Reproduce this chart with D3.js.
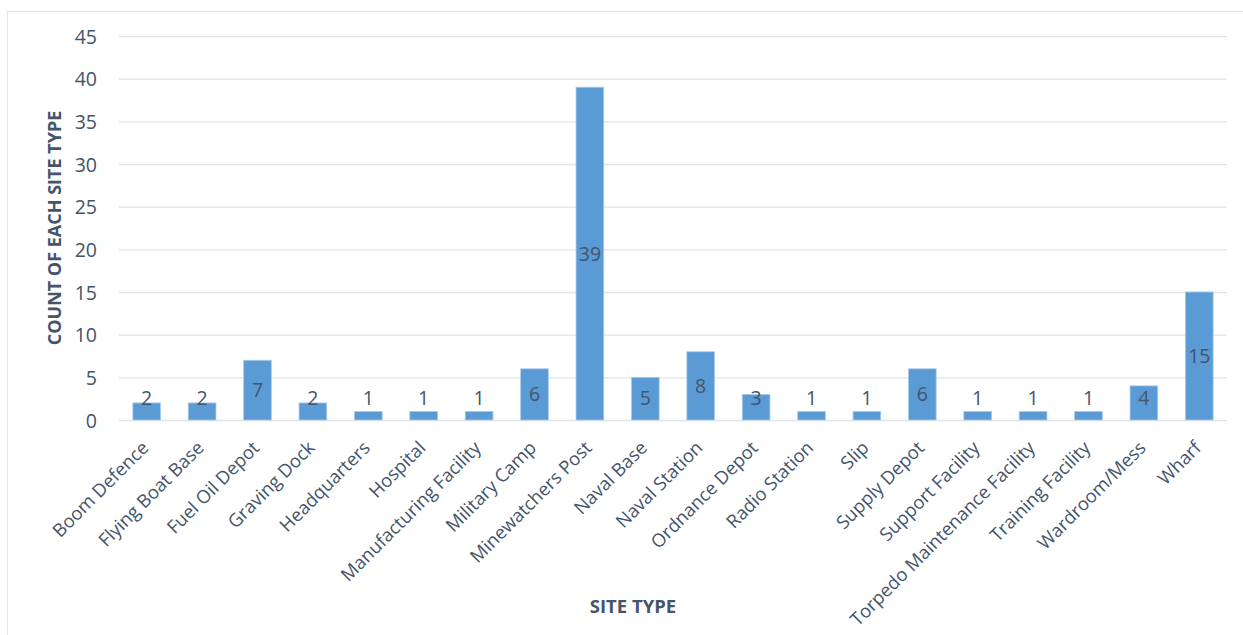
<!DOCTYPE html>
<html>
<head>
<meta charset="utf-8">
<script src="https://cdn.jsdelivr.net/npm/d3@7"></script>
<style>
  html, body { margin: 0; padding: 0; background: #fff; }
  svg { display: block; }
  text { font-family: "Open Sans", sans-serif; fill: #44546A; }
</style>
</head>
<body>
<svg id="chart" width="1243" height="635"></svg>
<script>
// Site types and how many sites of each type were recorded
const categories = [
  "Boom Defence", "Flying Boat Base", "Fuel Oil Depot", "Graving Dock",
  "Headquarters", "Hospital", "Manufacturing Facility", "Military Camp",
  "Minewatchers Post", "Naval Base", "Naval Station", "Ordnance Depot",
  "Radio Station", "Slip", "Supply Depot", "Support Facility",
  "Torpedo Maintenance Facility", "Training Facility", "Wardroom/Mess", "Wharf"
];
const counts = [2, 2, 7, 2, 1, 1, 1, 6, 39, 5, 8, 3, 1, 1, 6, 1, 1, 1, 4, 15];
const yTicks = [0, 5, 10, 15, 20, 25, 30, 35, 40, 45];

const xTitle = "SITE TYPE";
const yTitle = "COUNT OF EACH SITE TYPE";

const svg = d3.select("#chart");

// chart frame (only top and left edges fall inside the view)
svg.append("rect")
  .attr("x", 7.5).attr("y", 11.5)
  .attr("width", 1300).attr("height", 700)
  .attr("fill", "none")
  .attr("stroke", "#E3E7EC")
  .attr("stroke-width", 1.2);

const plot = { left: 119, right: 1227, top: 36, bottom: 420 };

const x = d3.scaleBand()
  .domain(categories)
  .range([plot.left, plot.right])
  .paddingInner(0.5)
  .paddingOuter(0.25);

const y = d3.scaleLinear()
  .domain([0, 45])
  .range([plot.bottom, plot.top]);

// horizontal gridlines
svg.append("g")
  .selectAll("line")
  .data(yTicks)
  .join("line")
  .attr("x1", plot.left).attr("x2", plot.right)
  .attr("y1", d => y(d) + 0.5).attr("y2", d => y(d) + 0.5)
  .attr("stroke", "#DFE5EC")
  .attr("stroke-width", 1.3);

// y axis labels
const yAxis = d3.axisLeft(y).tickValues(yTicks).tickSize(0).tickPadding(0);
const gy = svg.append("g")
  .attr("transform", `translate(${plot.left - 22},0)`)
  .call(yAxis);
gy.select(".domain").remove();
gy.selectAll("text")
  .style("font-family", "'Open Sans', sans-serif")
  .style("font-size", "19.5px")
  .attr("fill", "#44546A")
  .attr("dy", "0.36em");

// bars
svg.append("g")
  .selectAll("rect")
  .data(categories)
  .join("rect")
  .attr("x", d => x(d))
  .attr("width", x.bandwidth())
  .attr("y", (d, i) => y(counts[i]))
  .attr("height", (d, i) => y(0) - y(counts[i]))
  .attr("fill", "#5B9BD5")
  .attr("stroke", "#A9CBEA")
  .attr("stroke-width", 0.8);

// value labels centred in each bar, kept above the category axis
svg.append("g")
  .selectAll("text")
  .data(categories)
  .join("text")
  .attr("x", d => x(d) + x.bandwidth() / 2)
  .attr("y", (d, i) => {
    const mid = (y(counts[i]) + y(0)) / 2;
    return Math.min(mid, y(0) - 22) + 7;
  })
  .attr("text-anchor", "middle")
  .style("font-size", "19.5px")
  .attr("fill", "#404858")
  .text((d, i) => counts[i]);

// x axis labels rotated 45 degrees
const xAxis = d3.axisBottom(x).tickSize(0).tickPadding(0);
const gx = svg.append("g")
  .attr("transform", `translate(0,${plot.bottom})`)
  .call(xAxis);
gx.select(".domain").remove();
gx.selectAll("text")
  .style("font-family", "'Open Sans', sans-serif")
  .style("font-size", "18.4px")
  .attr("fill", "#44546A")
  .attr("text-anchor", "end")
  .attr("dy", 0)
  .attr("y", 0)
  .attr("transform", "translate(3,29) rotate(-45)");

// axis titles
svg.append("text")
  .attr("x", 633).attr("y", 613)
  .attr("text-anchor", "middle")
  .style("font-size", "18.5px")
  .style("font-weight", "bold")
  .text(xTitle);

svg.append("text")
  .attr("transform", "translate(61,228) rotate(-90)")
  .attr("text-anchor", "middle")
  .style("font-size", "18px")
  .style("font-weight", "bold")
  .text(yTitle);
</script>
</body>
</html>
